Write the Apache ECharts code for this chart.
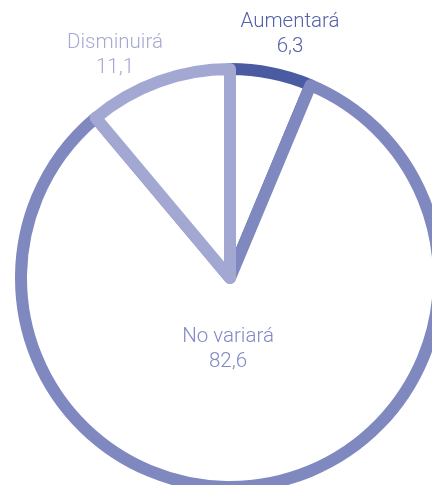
<!DOCTYPE html>
<html>
<head>
<meta charset="utf-8">
<script src="https://cdn.jsdelivr.net/npm/echarts@6/dist/echarts.min.js"></script>
<style>
  html, body { margin: 0; padding: 0; background: #ffffff; }
  #chart { width: 432px; height: 485px; }
</style>
</head>
<body>
<div id="chart"></div>
<script>
// Expected change, in percent of respondents
const categories = ['Aumentará', 'No variará', 'Disminuirá'];
const values = [6.3, 82.6, 11.1];

// Slice outline colours and label colours
const sliceColors = ['#4b5ba2', '#7f88bf', '#a3a8d3'];
const labelColors = ['#5360a9', '#8189c4', '#a4a9d5'];

// Label anchor points (pixels), one per category
const labelX = [290, 228, 115];
const labelY = [34, 349, 55];

const chart = echarts.init(document.getElementById('chart'), null, { renderer: 'canvas' });

const fmt = v => v.toFixed(1).replace('.', ',');

chart.setOption({
  animation: false,
  series: [{
    type: 'pie',
    center: [230, 278],
    radius: 209,
    startAngle: 90,
    clockwise: true,
    silent: true,
    emphasis: { disabled: true },
    data: categories.map((name, i) => ({
      name,
      value: values[i],
      itemStyle: {
        color: '#ffffff',
        borderColor: sliceColors[i],
        borderWidth: 12,
        borderJoin: 'round'
      },
      label: { color: labelColors[i] }
    })),
    label: {
      show: true,
      position: 'inside',
      formatter: p => p.name + '\n' + fmt(p.value),
      fontFamily: 'Roboto, "Liberation Sans", sans-serif',
      fontWeight: 300,
      fontSize: 20.5,
      lineHeight: 25,
      align: 'center'
    },
    labelLine: { show: false },
    labelLayout: p => {
      // find the category from the label's first line
      const idx = categories.indexOf(String(p.text).split('\n')[0]);
      return {
        x: labelX[idx],
        y: labelY[idx],
        align: 'center',
        verticalAlign: 'middle'
      };
    }
  }]
});
</script>
</body>
</html>
